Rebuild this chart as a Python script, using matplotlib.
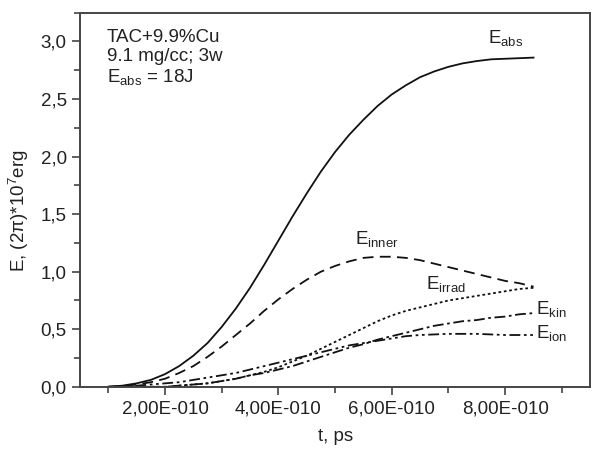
import numpy as np
import matplotlib
matplotlib.use('Agg')
import matplotlib.pyplot as plt
from matplotlib.ticker import FixedLocator, MultipleLocator, FuncFormatter

plt.rcParams['font.family'] = ['Liberation Sans', 'DejaVu Sans']
plt.rcParams['mathtext.default'] = 'regular'

# time in units of 1E-10 s
t = [1.0, 1.25, 1.5, 1.75, 2.0, 2.25, 2.5, 2.75, 3.0, 3.25, 3.5, 3.75, 4.0, 4.25, 4.5, 4.75,
     5.0, 5.25, 5.5, 5.75, 6.0, 6.25, 6.5, 6.75, 7.0, 7.25, 7.5, 7.75, 8.0, 8.25, 8.5]
e_abs = [0.0, 0.01, 0.03, 0.06, 0.11, 0.18, 0.27, 0.38, 0.52, 0.68, 0.86, 1.06, 1.27, 1.48, 1.68, 1.87,
         2.04, 2.19, 2.32, 2.44, 2.54, 2.62, 2.69, 2.74, 2.78, 2.81, 2.83, 2.845, 2.85, 2.855, 2.86]
e_inner = [0.0, 0.005, 0.02, 0.04, 0.07, 0.12, 0.18, 0.26, 0.35, 0.45, 0.55, 0.66, 0.76, 0.85, 0.93, 1.0,
           1.05, 1.09, 1.12, 1.13, 1.13, 1.12, 1.10, 1.07, 1.04, 1.01, 0.98, 0.95, 0.92, 0.90, 0.87]
e_irrad = [0.0, 0.0, 0.0, 0.0, 0.0, 0.01, 0.02, 0.03, 0.05, 0.07, 0.10, 0.13, 0.17, 0.22, 0.27, 0.33,
           0.39, 0.45, 0.51, 0.57, 0.62, 0.66, 0.69, 0.72, 0.75, 0.77, 0.79, 0.81, 0.83, 0.85, 0.86]
e_kin = [0.0, 0.0, 0.0, 0.0, 0.0, 0.01, 0.02, 0.03, 0.05, 0.07, 0.10, 0.12, 0.15, 0.18, 0.22, 0.26,
         0.30, 0.34, 0.37, 0.41, 0.44, 0.47, 0.50, 0.53, 0.55, 0.57, 0.58, 0.60, 0.61, 0.63, 0.64]
e_ion = [0.0, 0.005, 0.01, 0.02, 0.03, 0.04, 0.06, 0.08, 0.10, 0.12, 0.15, 0.18, 0.21, 0.24, 0.27, 0.30,
         0.33, 0.36, 0.38, 0.40, 0.42, 0.44, 0.45, 0.455, 0.46, 0.46, 0.46, 0.455, 0.45, 0.45, 0.45]

txt = '#222222'
fs = 13.5

fig = plt.figure(figsize=(5.92, 4.54), dpi=100)
ax = fig.add_axes([0.135, 0.148, 0.862, 0.824])

ts = np.array(t) * 1e-10
lw = 1.3
ax.plot(ts, e_abs, color='#111111', lw=lw, ls='-')
ax.plot(ts, e_inner, color='#111111', lw=lw, ls=(0, (6, 3.5)))
ax.plot(ts, e_irrad, color='#111111', lw=lw, ls=(0, (1.5, 1.5)))
ax.plot(ts, e_kin, color='#111111', lw=lw, ls=(0, (6, 2, 1.5, 2)))
ax.plot(ts, e_ion, color='#111111', lw=lw, ls=(0, (6, 2, 1.5, 2, 1.5, 2)))

# curve labels
ax.text(7.7e-10, 3.03, 'E$_{abs}$', fontsize=fs, color=txt, va='center')
ax.text(5.36e-10, 1.28, 'E$_{inner}$', fontsize=fs, color=txt, va='center')
ax.text(6.61e-10, 0.89, 'E$_{irrad}$', fontsize=fs, color=txt, va='center')
ax.text(8.55e-10, 0.68, 'E$_{kin}$', fontsize=fs, color=txt, va='center')
ax.text(8.55e-10, 0.47, 'E$_{ion}$', fontsize=fs, color=txt, va='center')

# annotation box
ax.text(0.053, 0.957, 'TAC+9.9%Cu\n9.1 mg/cc; 3w\nE$_{abs}$ = 18J', transform=ax.transAxes,
        fontsize=fs, color=txt, va='top', ha='left', linespacing=1.15)

ax.set_xlim(0.5e-10, 9.5e-10)
ax.set_ylim(0, 3.25)

ax.xaxis.set_major_locator(FixedLocator([2e-10, 4e-10, 6e-10, 8e-10]))
ax.xaxis.set_minor_locator(FixedLocator([1e-10, 3e-10, 5e-10, 7e-10, 9e-10]))
ax.yaxis.set_major_locator(MultipleLocator(0.5))
ax.yaxis.set_minor_locator(MultipleLocator(0.25))


def xfmt(v, pos):
    if v <= 0:
        return ''
    exp = int(np.floor(np.log10(v) + 1e-9))
    mant = v / 10 ** exp
    return f'{mant:.2f}'.replace('.', ',') + f'E-{abs(exp):03d}'


ax.xaxis.set_major_formatter(FuncFormatter(xfmt))
ax.yaxis.set_major_formatter(FuncFormatter(lambda v, p: f'{v:.1f}'.replace('.', ',')))

ax.tick_params(which='both', direction='out', top=False, right=False,
               colors='#444444', labelcolor=txt, labelsize=fs, width=1.2)
ax.tick_params(which='major', length=6)
ax.tick_params(which='minor', length=4)
for s in ax.spines.values():
    s.set_color('#444444')
    s.set_linewidth(1.4)

ax.set_xlabel('t, ps', fontsize=fs, color=txt, labelpad=8)
ax.set_ylabel('E, (2π)*10$^{7}$erg', fontsize=fs, color=txt)
ax.yaxis.set_label_coords(-0.095, 0.47)

fig.savefig('out.png', dpi=100)
